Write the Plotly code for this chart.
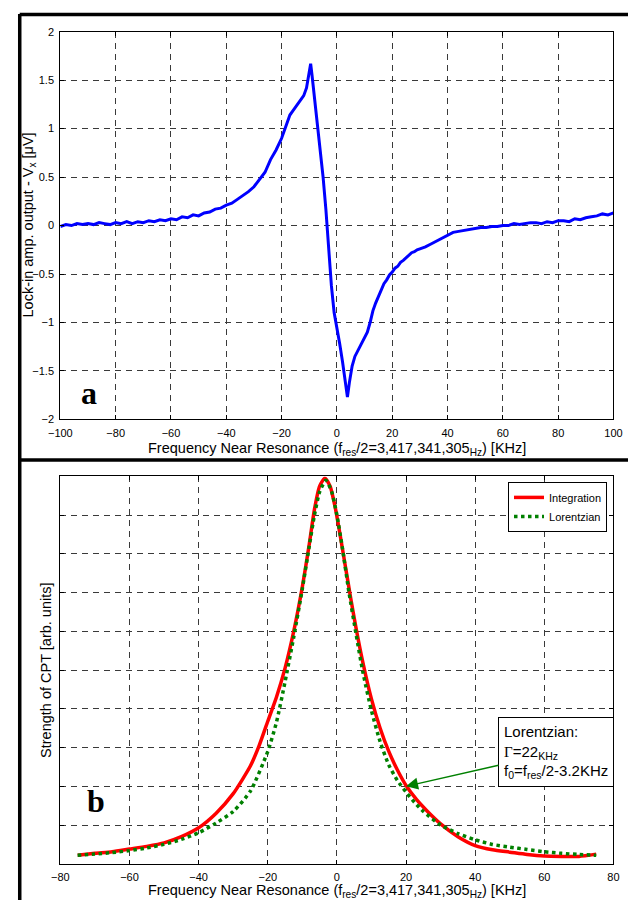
import plotly.graph_objects as go

# ---------------- data: panel a (lock-in signal) ----------------
freq_a = [-100, -98, -96, -94, -92, -90, -88, -86, -84, -82, -80, -78, -76, -74, -72, -70,
          -68, -66, -64, -62, -60, -58, -56, -54, -52, -50, -48, -46, -44, -42, -40, -38,
          -36, -34, -32, -30, -28, -26, -24, -22, -20, -18, -17, -16, -15, -14, -13, -12,
          -11, -10.5, -10, -9.5, -9, -8, -7, -6, -5, -4, -3, -2, -1, 0, 1, 2, 3, 3.8,
          4.5, 5.5, 6.5, 8, 9, 10, 11, 12, 13, 14, 15, 16, 17, 18, 19, 20, 21, 22, 23,
          24, 25, 26, 27, 28, 29, 30, 32, 34, 36, 38, 40, 42, 44, 46, 48, 50, 52, 54,
          56, 58, 60, 62, 64, 66, 68, 70, 72, 74, 76, 78, 80, 82, 84, 86, 88, 90, 92,
          94, 96, 98, 100]
signal_a = [-0.01, 0.01, 0.00, 0.02, 0.01, 0.02, 0.01, 0.03, 0.02, 0.01, 0.03, 0.02, 0.04,
            0.02, 0.04, 0.03, 0.05, 0.04, 0.06, 0.05, 0.07, 0.06, 0.09, 0.08, 0.11, 0.10,
            0.13, 0.14, 0.17, 0.18, 0.21, 0.23, 0.27, 0.31, 0.35, 0.40, 0.47, 0.55, 0.68,
            0.78, 0.90, 1.05, 1.14, 1.18, 1.22, 1.25, 1.29, 1.34, 1.42, 1.52, 1.62, 1.67,
            1.55, 1.30, 1.03, 0.77, 0.50, 0.17, -0.22, -0.62, -0.90, -1.05, -1.22, -1.40,
            -1.62, -1.77, -1.62, -1.45, -1.35, -1.27, -1.21, -1.15, -1.10, -1.00, -0.88,
            -0.80, -0.73, -0.66, -0.60, -0.56, -0.51, -0.48, -0.44, -0.42, -0.38, -0.36,
            -0.33, -0.31, -0.28, -0.27, -0.25, -0.24, -0.22, -0.19, -0.16, -0.13, -0.10,
            -0.07, -0.06, -0.05, -0.04, -0.03, -0.02, -0.02, -0.01, -0.01, 0.00, 0.00,
            0.02, 0.01, 0.02, 0.03, 0.03, 0.02, 0.04, 0.03, 0.05, 0.05, 0.04, 0.07, 0.06,
            0.08, 0.09, 0.10, 0.12, 0.11, 0.13]

# ---------------- data: panel b (CPT strength) ----------------
freq_int = [-75, -70, -65, -60, -55, -50, -45, -40, -35, -30, -25, -22.5, -20, -17.5, -15,
            -12.5, -10, -8, -6.5, -5, -3.5, -2, -0.5, 1, 2.5, 4, 5.5, 7.5, 10, 12.5, 15,
            17.5, 20, 23, 26, 30, 35, 40, 45, 50, 55, 60, 65, 70, 75]
integration = [0.22, 0.27, 0.31, 0.38, 0.45, 0.54, 0.70, 0.93, 1.30, 1.81, 2.53, 3.05, 3.68,
               4.30, 5.05, 6.00, 7.15, 8.25, 9.15, 9.75, 9.95, 9.75, 9.20, 8.45, 7.65, 6.85,
               6.10, 5.20, 4.25, 3.50, 2.90, 2.42, 2.02, 1.66, 1.37, 1.03, 0.70, 0.47, 0.36,
               0.30, 0.24, 0.20, 0.19, 0.19, 0.25]

freq_lor = [-75, -70, -65, -60, -55, -50, -45, -40, -35, -30, -25, -20, -17.5, -15, -12.5,
            -10, -8, -6.5, -5, -3.2, -1.5, 0, 1.5, 3.5, 5.5, 7.5, 10, 12.5, 15, 17.5, 20,
            22.5, 25, 30, 35, 40, 45, 50, 55, 60, 65, 70, 75]
lorentzian = [0.22, 0.25, 0.29, 0.34, 0.41, 0.50, 0.63, 0.80, 1.05, 1.35, 1.88, 2.90, 3.65,
              4.70, 5.85, 7.10, 8.20, 9.00, 9.60, 9.90, 9.60, 9.00, 8.20, 7.00, 5.95, 4.95,
              3.95, 3.15, 2.55, 2.15, 1.85, 1.58, 1.35, 1.00, 0.78, 0.62, 0.50, 0.43, 0.37,
              0.31, 0.27, 0.24, 0.22]

xticks_a = [-100, -80, -60, -40, -20, 0, 20, 40, 60, 80, 100]
yticks_a = [-2, -1.5, -1, -0.5, 0, 0.5, 1, 1.5, 2]
xticks_b = [-80, -60, -40, -20, 0, 20, 40, 60, 80]
yticks_b = [0, 1, 2, 3, 4, 5, 6, 7, 8, 9, 10]

# ---------------- figure ----------------
W, H = 637, 906


def px(x):
    return x / W


def py(y):
    return 1 - y / H


FONT = "Arial, Liberation Sans, sans-serif"
fig = go.Figure()

fig.add_trace(go.Scatter(x=freq_a, y=signal_a, mode="lines", xaxis="x", yaxis="y",
                         line=dict(color="#0000FF", width=3), showlegend=False))
fig.add_trace(go.Scatter(x=freq_int, y=integration, mode="lines", xaxis="x2", yaxis="y2",
                         name="Integration", line=dict(color="#FF0000", width=3.5, shape="spline",
                                                      smoothing=0.6)))
fig.add_trace(go.Scatter(x=freq_lor, y=lorentzian, mode="lines", xaxis="x2", yaxis="y2",
                         name="Lorentzian", line=dict(color="#008000", width=3.5, dash="dot",
                                                     shape="spline", smoothing=0.6)))

grid = dict(showgrid=True, gridcolor="#3a3a3a", gridwidth=1, griddash="6px,5px",
            zeroline=False, showline=True, linecolor="black", linewidth=1.2, mirror="ticks",
            ticks="inside", ticklen=4, tickcolor="black", tickwidth=1,
            tickfont=dict(family=FONT, size=11, color="black"), ticklabelstandoff=3)

xdom = [px(50), px(622)]
fig.update_layout(
    width=W, height=H, margin=dict(l=0, r=0, t=0, b=0),
    paper_bgcolor="white", plot_bgcolor="white",
    xaxis=dict(domain=xdom, range=[-100, 100], tickvals=xticks_a, anchor="y", **grid),
    yaxis=dict(domain=[py(419), py(26)], range=[-2, 2], tickvals=yticks_a, anchor="x", **grid),
    xaxis2=dict(domain=xdom, range=[-80, 80], tickvals=xticks_b, anchor="y2", **grid),
    yaxis2=dict(domain=[py(869.3), py(476.7)], range=[0, 10], tickvals=yticks_b, anchor="x2",
                **{**grid, "showticklabels": False}),
    legend=dict(x=px(615.3), y=py(482.3), xanchor="right", yanchor="top",
                bgcolor="white", bordercolor="black", borderwidth=1,
                font=dict(family=FONT, size=11, color="black"), itemwidth=30,
                tracegroupgap=0),
    showlegend=True,
)

# outer frames
frame = dict(color="black", width=3.5)
fig.add_shape(type="line", xref="paper", yref="paper", x0=px(8), x1=px(8), y0=py(8), y1=0,
              line=frame)
fig.add_shape(type="line", xref="paper", yref="paper", x0=px(8), x1=1, y0=py(8.5), y1=py(8.5),
              line=frame)
fig.add_shape(type="line", xref="paper", yref="paper", x0=px(8), x1=1, y0=py(460), y1=py(460),
              line=frame)

ann_font = dict(family=FONT, size=14.5, color="black")
# axis titles
fig.add_annotation(xref="paper", yref="paper", x=px(336), y=py(438), xanchor="center",
                   yanchor="top", showarrow=False, font=ann_font,
                   text="Frequency Near Resonance (f<sub>res</sub>/2=3,417,341,305<sub>Hz</sub>) [KHz]")
fig.add_annotation(xref="paper", yref="paper", x=px(336), y=py(885.5), xanchor="center",
                   yanchor="top", showarrow=False, font=ann_font,
                   text="Frequency Near Resonance (f<sub>res</sub>/2=3,417,341,305<sub>Hz</sub>) [KHz]")
fig.add_annotation(xref="paper", yref="paper", x=px(18), y=py(222), xanchor="center",
                   yanchor="middle", showarrow=False, font=ann_font, textangle=-90,
                   text="Lock-in amp. output - V<sub>x</sub> [μV]")
fig.add_annotation(xref="paper", yref="paper", x=px(35), y=py(673), xanchor="center",
                   yanchor="middle", showarrow=False, font=ann_font, textangle=-90,
                   text="Strength of CPT [arb. units]")

# panel letters
letter_font = dict(family="Liberation Serif, Times New Roman, serif", size=32, color="black")
fig.add_annotation(xref="paper", yref="paper", x=px(80), y=py(392), showarrow=False,
                   xanchor="center", yanchor="middle", font=letter_font, text="<b>a</b>")
fig.add_annotation(xref="paper", yref="paper", x=px(87), y=py(806), showarrow=False,
                   xanchor="center", yanchor="middle", font=letter_font, text="<b>b</b>")

# Lorentzian fit annotation with arrow
fig.add_annotation(xref="x2", yref="y2", x=20, y=2.0, ax=150, ay=-34,
                   showarrow=True, arrowhead=2, arrowsize=1.6, arrowwidth=1.5,
                   arrowcolor="#008000", bgcolor="white", bordercolor="black",
                   borderwidth=1, borderpad=5, align="left",
                   font=dict(family=FONT, size=15, color="black"),
                   text="Lorentzian:<br><span style='font-family:Liberation Serif'>Γ</span>=22<sub>KHz</sub>"
                        "<br>f<sub>0</sub>=f<sub>res</sub>/2-3.2KHz")

fig.write_html("out.html")
